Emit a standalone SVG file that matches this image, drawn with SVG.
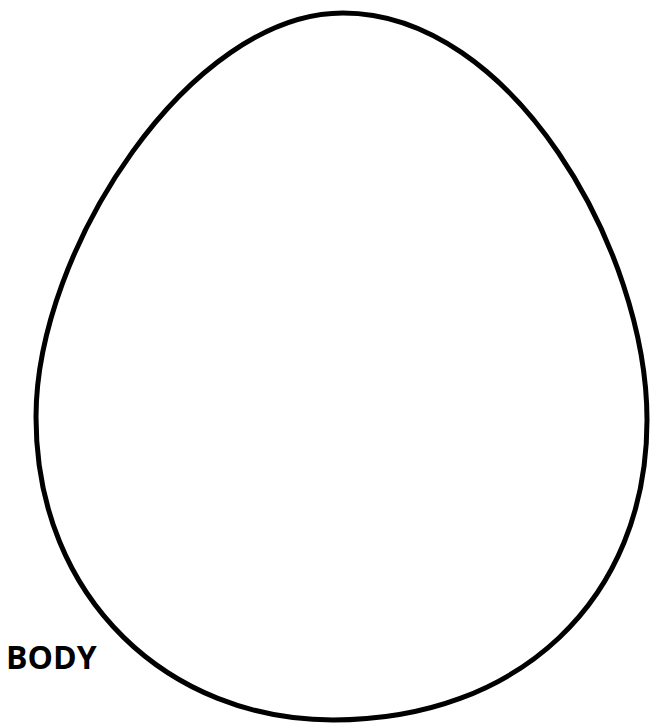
<svg xmlns="http://www.w3.org/2000/svg" width="653" height="725" viewBox="0 0 653 725">
<style>
.egg{fill:none;stroke:#000;stroke-width:5}
.lbl{font-family:"Open Sans","DejaVu Sans",sans-serif;font-weight:bold;font-size:32px;fill:#000}
</style>
<rect width="653" height="725" fill="#fff"/>
<g id="egg">
<path class="egg" d="M343,13 C512,13 647,250 647,420 C647,600 518,720 333,720 C170,720 36,600 36,417 C36,250 190,13 343,13 Z"/>
</g>
<g id="label">
<text class="lbl" x="6" y="669">BODY</text>
</g>
</svg>
